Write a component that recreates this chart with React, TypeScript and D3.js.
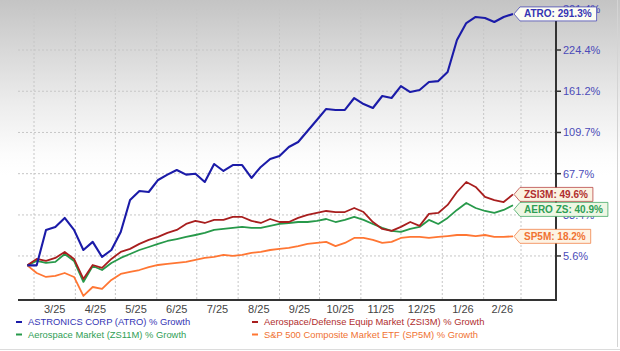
import * as d3 from 'd3';

const W = 620;
const H = 351;
const PLOT = { left: 18, right: 556, top: 9, bottom: 300 };
const FONT = '"Liberation Sans", Arial, sans-serif';

// weekly closes, % growth since 2/24/25
const START = new Date(2025, 1, 24);
const ATRO = [0, 0, 22.6, 24.7, 31.2, 22.6, 9.3, 14.5, 5.0, 9.3, 21.2, 45.0, 52.5, 51.6, 62.0, 66.8, 71.1, 66.8, 67.7, 60.2, 76.8, 70.2, 75.8, 75.8, 63.8, 74.0, 81.7, 84.7, 93.9, 99.2, 111.3, 124.2, 137.8, 136.5, 136.5, 152.0, 144.1, 139.0, 154.7, 152.0, 168.5, 160.1, 162.9, 174.2, 175.6, 189.1, 241.7, 273.3, 285.2, 283.2, 275.2, 285.2, 291.3];
const ZSI3M = [0, 3.8, 2.6, 4.4, 8.1, 3.8, -7.7, 0.2, -1.5, 3.8, 8.1, 10.0, 13.2, 15.8, 17.8, 20.5, 22.6, 26.8, 29.0, 27.5, 29.7, 29.7, 31.9, 31.9, 29.0, 27.5, 30.4, 28.2, 28.2, 31.2, 33.4, 34.9, 36.4, 35.6, 35.6, 38.7, 35.6, 28.2, 23.3, 21.9, 24.7, 28.2, 25.4, 34.2, 34.9, 41.1, 51.6, 60.2, 55.9, 47.5, 45.0, 43.4, 49.6];
const ZS11M = [0, 2.6, 1.4, 2.0, 6.8, 2.6, -9.3, -0.4, -2.7, 1.4, 4.4, 6.8, 9.3, 11.2, 13.2, 15.1, 16.4, 17.8, 19.1, 20.5, 22.6, 23.3, 24.0, 24.7, 24.0, 24.0, 25.4, 26.8, 27.5, 28.2, 28.2, 29.0, 30.4, 28.2, 29.7, 31.9, 29.7, 26.8, 24.0, 21.9, 21.2, 23.3, 24.7, 29.7, 26.8, 31.2, 37.2, 42.6, 38.7, 36.4, 34.9, 37.2, 40.9];
const SP5M = [0, -4.4, -6.6, -6.0, -4.4, -6.6, -16.6, -12.0, -13.0, -8.2, -4.9, -3.8, -2.7, -1.0, 0.2, 0.8, 1.4, 2.0, 3.2, 4.4, 5.0, 6.2, 5.6, 6.2, 7.5, 8.1, 9.3, 10.0, 10.6, 11.8, 13.2, 13.8, 14.5, 11.8, 13.8, 17.1, 17.1, 15.8, 13.8, 14.5, 17.1, 17.8, 17.8, 17.1, 17.8, 18.4, 19.1, 19.1, 18.4, 19.1, 17.8, 17.8, 18.2];

const Y_TICKS = [5.6, 33.4, 67.7, 109.7, 161.2, 224.4, 301.4];
const Y_MIN = -18.6;
const OFFSET = 118; // the axis is log-like on (value + offset)

const SERIES = [
  { tag: 'SP5M', name: 'S&P 500 Composite Market ETF (SP5M) % Growth', values: SP5M, line: '#ff7633', text: '#f07232', fill: '#fdf3e4', col: 1, row: 1, width: 1.8 },
  { tag: 'AERO ZS', name: 'Aerospace Market (ZS11M) % Growth', values: ZS11M, line: '#27994a', text: '#2f9e55', fill: '#eef7e4', col: 0, row: 1, width: 1.8 },
  { tag: 'ZSI3M', name: 'Aerospace/Defense Equip Market (ZSI3M) % Growth', values: ZSI3M, line: '#a81e1e', text: '#b02e2e', fill: '#fbf3e2', col: 1, row: 0, width: 1.8 },
  { tag: 'ATRO', name: 'ASTRONICS CORP (ATRO) % Growth', values: ATRO, line: '#1b1ba8', text: '#3434b4', fill: '#fdfdf2', col: 0, row: 0, width: 2.1 },
];

function textWidth(s: string, font: string) {
  const ctx = document.createElement('canvas').getContext('2d');
  if (!ctx) return s.length * 6;
  ctx.font = font;
  return ctx.measureText(s).width;
}

export default function App() {
  const dates = ATRO.map((_, i) => d3.timeDay.offset(START, i * 7));
  const monthStart = new Date(2025, 2, 1);
  const monthEnd = new Date(2026, 2, 1);
  const x = d3.scaleTime().domain([monthStart, monthEnd]).range([34, 521]);
  const yLog = d3.scaleLog().domain([OFFSET + Y_MIN, OFFSET + Y_TICKS[Y_TICKS.length - 1]]).range([PLOT.bottom, PLOT.top]);
  const y = (v: number) => yLog(v + OFFSET);

  const line = d3
    .line<number>()
    .x((_, i) => x(dates[i]))
    .y((d) => y(d))
    .curve(d3.curveLinear);

  const months = d3.timeMonth.range(monthStart, d3.timeDay.offset(monthEnd, 1));
  const labelMonths = d3.timeMonth.range(monthStart, monthEnd);
  const fmt = d3.timeFormat('%-m/%y');

  // end callouts, pushed apart so they do not overlap
  const labelFont = `bold 10px ${FONT}`;
  const callouts = SERIES.map((s) => {
    const last = s.values[s.values.length - 1];
    const label = `${s.tag}: ${last.toFixed(1)}%`;
    return { s, label, cy: y(last), w: textWidth(label, labelFont) + 9 };
  }).sort((a, b) => a.cy - b.cy);
  for (let i = 1; i < callouts.length; i++) {
    if (callouts[i].cy - callouts[i - 1].cy < 15) callouts[i].cy = callouts[i - 1].cy + 15;
  }
  const tipX = x(dates[dates.length - 1]) + 1;

  return (
    <div style={{ position: 'absolute', left: 0, top: 0 }}>
      <svg width={W} height={H} style={{ display: 'block' }} fontFamily={FONT}>
        <defs>
          <linearGradient id="bg" x1="0" y1="0" x2="0" y2="1">
            <stop offset="0" stopColor="#c4c4c4" />
            <stop offset="0.15" stopColor="#d9d9d9" />
            <stop offset="0.3" stopColor="#ededed" />
            <stop offset="0.44" stopColor="#fcfcfc" />
            <stop offset="0.5" stopColor="#ffffff" />
          </linearGradient>
        </defs>
        <rect width={W} height={H} fill="url(#bg)" />
        <line x1={W - 2.5} x2={W - 2.5} y1={0} y2={H - 4} stroke="#d4d4d4" />
        <line x1={0} x2={W} y1={H - 1.5} y2={H - 1.5} stroke="#dcdcdc" />

        {/* grid */}
        {Y_TICKS.map((t) => (
          <line key={t} x1={PLOT.left} x2={PLOT.right} y1={y(t)} y2={y(t)} stroke="#c6c6c6" strokeDasharray="2,2" />
        ))}
        {months.map((m) => (
          <line key={+m} x1={x(m)} x2={x(m)} y1={PLOT.top} y2={PLOT.bottom} stroke="#c6c6c6" strokeDasharray="2,2" />
        ))}

        {/* axes */}
        <line x1={PLOT.left} x2={PLOT.right + 1} y1={PLOT.bottom} y2={PLOT.bottom} stroke="#333" strokeWidth={2} />
        <line x1={PLOT.right} x2={PLOT.right} y1={PLOT.top} y2={PLOT.bottom + 1} stroke="#333" strokeWidth={2} />
        {Y_TICKS.map((t) => (
          <g key={t}>
            <line x1={PLOT.right} x2={PLOT.right + 5} y1={y(t)} y2={y(t)} stroke="#333" strokeWidth={1.5} />
            <text x={PLOT.right + 7} y={y(t)} dy="0.35em" fontSize={11} fill="#4b4bb8">
              {`${t.toFixed(1)}%`}
            </text>
          </g>
        ))}
        {labelMonths.map((m) => {
          const mid = (x(m) + x(d3.timeMonth.offset(m, 1))) / 2;
          return (
            <text key={+m} x={mid} y={PLOT.bottom + 9} dy="0.35em" textAnchor="middle" fontSize={11} fill="#444">
              {fmt(m)}
            </text>
          );
        })}

        {/* series */}
        {SERIES.map((s) => (
          <path key={s.tag} d={line(s.values) ?? ''} fill="none" stroke={s.line} strokeWidth={s.width} strokeLinejoin="round" />
        ))}

        {/* callouts */}
        {callouts.map(({ s, label, cy, w }) => {
          const x0 = tipX + 6;
          const h = 14;
          const d = `M${tipX},${cy} L${x0},${cy - h / 2} L${x0 + w},${cy - h / 2} L${x0 + w},${cy + h / 2} L${x0},${cy + h / 2} Z`;
          return (
            <g key={s.tag}>
              <path d={d} fill={s.fill} stroke={s.text} strokeOpacity={0.7} strokeWidth={1} />
              <text x={x0 + 4} y={cy} dy="0.35em" fontSize={10} fontWeight="bold" fill={s.text}>
                {label}
              </text>
            </g>
          );
        })}

        {/* legend */}
        {SERIES.map((s) => {
          const lx = s.col === 0 ? 16 : 252;
          const ly = s.row === 0 ? 322 : 334.5;
          return (
            <g key={s.tag}>
              <line x1={lx} x2={lx + 6} y1={ly} y2={ly} stroke={s.line} strokeWidth={2} />
              <text x={lx + 12} y={ly} dy="0.35em" fontSize={9.4} fill={s.text}>
                {s.name}
              </text>
            </g>
          );
        })}
      </svg>
    </div>
  );
}
